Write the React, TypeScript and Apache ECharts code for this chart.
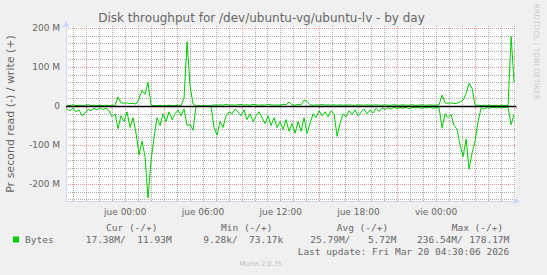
import React, { useEffect, useRef } from "react";
import * as echarts from "echarts";

const TITLE = "Disk throughput for /dev/ubuntu-vg/ubuntu-lv - by day";
const Y_NAME = "Pr second read (-) / write (+)";
const X_TICK_LABELS: Record<string, string> = {
  "0": "jue 00:00",
  "6": "jue 06:00",
  "12": "jue 12:00",
  "18": "jue 18:00",
  "24": "vie 00:00",
};
const Y_MIN = -243.6;
const Y_MAX = 205;
const X_MIN = -4.579;
const X_MAX = 30.17;
const START_HOUR = -4.5;
const STEP_HOUR = 0.2317;

// read throughput (MB/s, drawn negative)
const readMB = [
  -8, -12, -5, -15, -10, -25, -18, -8, -12, -6,
  -10, -5, -9, -6, -12, -28, -20, -58, -25, -40,
  -15, -55, -30, -70, -125, -90, -130, -236, -140, -80,
  -30, -50, -20, -40, -15, -35, -20, -10, -25, -8,
  -50, -48, -62, -1, -1, -1, -1, -1, -2, -55,
  -75, -40, -55, -25, -15, -20, -8, -15, -25, -10,
  -35, -20, -40, -25, -15, -30, -45, -25, -50, -30,
  -55, -40, -60, -35, -65, -45, -70, -40, -65, -30,
  -70, -45, -20, -30, -12, -25, -15, -28, -12, -20,
  -78, -45, -20, -28, -12, -22, -10, -25, -15, -8,
  -20, -10, -18, -6, -14, -5, -9, -4, -8, -3,
  -7, -4, -6, -3, -7, -4, -5, -3, -6, -4,
  -5, -3, -6, -4, -5, -57, -20, -30, -22, -50,
  -60, -100, -130, -85, -162, -120, -90, -40, -5, -8,
  -4, -6, -3, -5, -4, -5, -3, -4, -48, -22,
];

// write throughput (MB/s, positive)
const writeMB = [
  2, 1, 3, 1, 2, 1, 2, 3, 1, 2,
  1, 2, 1, 2, 1, 2, 1, 23, 8, 7,
  8, 6, 7, 5, 18, 40, 30, 60, 2, 1,
  1, 2, 1, 1, 2, 1, 1, 2, 1, 20,
  165, 52, 5, 0.5, 0.5, 0.5, 0.5, 0.5, 0.5, 3,
  2, 3, 2, 4, 2, 3, 2, 3, 4, 2,
  3, 2, 4, 3, 2, 3, 2, 4, 3, 2,
  3, 2, 4, 3, 10, 3, 2, 4, 3, 15,
  12, 3, 2, 3, 2, 4, 2, 3, 2, 3,
  2, 3, 2, 2, 3, 2, 2, 3, 2, 2,
  3, 2, 2, 3, 2, 2, 3, 2, 2, 3,
  2, 2, 3, 2, 2, 3, 2, 2, 3, 2,
  2, 3, 2, 2, 3, 28, 8, 7, 8, 6,
  7, 10, 15, 32, 58, 45, 2, 2, 1, 2,
  1, 2, 1, 2, 1, 2, 1, 2, 178, 60,
];

const LEGEND_HEADERS = ["Cur (-/+)", "Min (-/+)", "Avg (-/+)", "Max (-/+)"];
const LEGEND_READ = ["17.38M/", "9.28k/", "25.79M/", "236.54M/"];
const LEGEND_WRITE = ["11.93M", "73.17k", "5.72M", "178.17M"];
const SERIES_NAME = "Bytes";
const LAST_UPDATE = "Last update: Fri Mar 20 04:30:06 2026";
const FOOTER = "Munin 2.0.75";
const SIDE_TEXT = "RRDTOOL / TOBI OETIKER";

const GREEN = "#00cc00";
const FONT_COLOR = "#666666";
const AXIS_COLOR = "#cfd6f8";
const SANS = '"DejaVu Sans", sans-serif';
const MONO = '"DejaVu Sans Mono", monospace';

export default function App() {
  const ref = useRef<HTMLDivElement>(null);
  useEffect(() => {
    const chart = echarts.init(ref.current!, null, { renderer: "svg" });
    const toPts = (arr: number[]) => arr.map((v, i) => [START_HOUR + i * STEP_HOUR, v]);

    const headerX = [106, 221, 336.7, 451.7];
    const readX = [85.7, 203.3, 310.3, 417];
    const writeX = [171.7, 283.3, 396.5, 509.3];

    const graphics: any[] = [
      {
        type: "text", x: 261.5, y: 18,
        style: { text: TITLE, align: "center", verticalAlign: "middle", font: `12px ${SANS}`, fill: FONT_COLOR },
      },
      {
        type: "text", x: 10, y: 114, rotation: Math.PI / 2,
        style: { text: Y_NAME, align: "center", verticalAlign: "middle", font: `11px ${SANS}`, fill: FONT_COLOR },
      },
      {
        type: "text", x: 536, y: 52, rotation: -Math.PI / 2,
        style: { text: SIDE_TEXT, align: "center", verticalAlign: "middle", font: `7.5px ${SANS}`, fill: "#cccccc" },
      },
      {
        type: "rect", shape: { x: 13, y: 236.5, width: 6, height: 6 }, style: { fill: GREEN },
      },
      {
        type: "text", x: 25, y: 239.5,
        style: { text: SERIES_NAME, align: "left", verticalAlign: "middle", font: `9.5px ${MONO}`, fill: FONT_COLOR },
      },
      {
        type: "text", x: 509.3, y: 251.8,
        style: { text: LAST_UPDATE, align: "right", verticalAlign: "middle", font: `9.5px ${MONO}`, fill: FONT_COLOR },
      },
      {
        type: "text", x: 260.7, y: 264,
        style: { text: FOOTER, align: "center", verticalAlign: "middle", font: `6.5px ${SANS}`, fill: "#bbbbbb" },
      },
    ];
    LEGEND_HEADERS.forEach((t, k) =>
      graphics.push({
        type: "text", x: headerX[k], y: 227.8,
        style: { text: t, align: "left", verticalAlign: "middle", font: `9.5px ${MONO}`, fill: FONT_COLOR },
      })
    );
    LEGEND_READ.forEach((t, k) =>
      graphics.push({
        type: "text", x: readX[k], y: 239.5,
        style: { text: t, align: "left", verticalAlign: "middle", font: `9.5px ${MONO}`, fill: FONT_COLOR },
      })
    );
    LEGEND_WRITE.forEach((t, k) =>
      graphics.push({
        type: "text", x: writeX[k], y: 239.5,
        style: { text: t, align: "right", verticalAlign: "middle", font: `9.5px ${MONO}`, fill: FONT_COLOR },
      })
    );

    const greyDot = {
      show: true,
      lineStyle: { color: "rgba(143,143,143,0.75)", type: [1, 1], width: 1 },
    };
    const redDot = {
      show: true, showMinLine: false, showMaxLine: false,
      lineStyle: { color: "rgba(222,79,79,0.6)", type: [1, 1], width: 1 },
    };

    chart.setOption({
      animation: false,
      backgroundColor: "#f0f0f0",
      grid: { left: 66, right: 31, top: 26, bottom: 74, show: true, backgroundColor: "#ffffff", borderWidth: 0 },
      xAxis: [
        {
          // major (red) and minor (grey, hourly) vertical grid, shifted 3h from labels
          type: "value", position: "bottom", min: X_MIN + 3, max: X_MAX + 3,
          minInterval: 6, maxInterval: 6, splitNumber: 6,
          axisLine: { show: false }, axisLabel: { show: false },
          axisTick: { show: true, length: 3, lineStyle: { color: "rgba(222,79,79,0.6)" } },
          splitLine: redDot,
          minorTick: { show: false, splitNumber: 6 },
          minorSplitLine: greyDot,
        },
        {
          type: "value", position: "bottom", min: X_MIN, max: X_MAX,
          minInterval: 6, maxInterval: 6, splitNumber: 6,
          axisLine: {
            show: true, onZero: false, symbol: ["none", "arrow"], symbolSize: [6, 7], symbolOffset: [0, 4],
            lineStyle: { color: AXIS_COLOR, width: 1 },
          },
          axisTick: { show: false },
          splitLine: { show: false },
          axisLabel: {
            show: true, margin: 6, color: FONT_COLOR, fontFamily: "DejaVu Sans", fontSize: 9,
            showMinLabel: false, showMaxLabel: false,
            formatter: (v: number) => X_TICK_LABELS[String(Math.round(v))] ?? "",
          },
        },
      ],
      yAxis: [
        {
          type: "value", position: "left", min: Y_MIN, max: Y_MAX,
          minInterval: 100, maxInterval: 100, splitNumber: 5,
          axisLine: {
            show: true, onZero: false, symbol: ["none", "arrow"], symbolSize: [6, 7], symbolOffset: [0, 5],
            lineStyle: { color: AXIS_COLOR, width: 1 },
          },
          axisTick: { show: false },
          splitLine: redDot,
          minorTick: { show: false, splitNumber: 5 },
          minorSplitLine: greyDot,
          axisLabel: {
            show: true, margin: 6, color: FONT_COLOR, fontFamily: "DejaVu Sans", fontSize: 9,
            showMinLabel: false, showMaxLabel: false,
            formatter: (v: number) => (v === 0 ? "0" : `${v} M`),
          },
        },
      ],
      series: [
        {
          name: "read", type: "line", xAxisIndex: 1, yAxisIndex: 0, data: toPts(readMB),
          showSymbol: false, lineStyle: { color: GREEN, width: 1 }, itemStyle: { color: GREEN }, z: 3,
        },
        {
          name: "write", type: "line", xAxisIndex: 1, yAxisIndex: 0, data: toPts(writeMB),
          showSymbol: false, lineStyle: { color: GREEN, width: 1 }, itemStyle: { color: GREEN }, z: 3,
          markLine: {
            silent: true, symbol: ["none", "none"], label: { show: false },
            lineStyle: { color: "#000", type: "solid", width: 1.3 },
            data: [{ yAxis: 0 }],
          },
        },
      ],
      graphic: graphics,
    });
    return () => chart.dispose();
  }, []);
  return <div ref={ref} style={{ position: "fixed", left: 0, top: 0, width: 547, height: 275 }} />;
}
